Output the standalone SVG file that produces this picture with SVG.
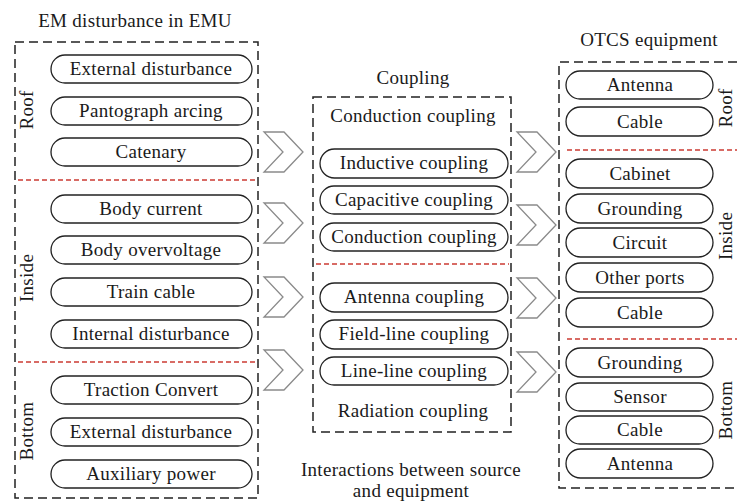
<svg xmlns="http://www.w3.org/2000/svg" xmlns:xlink="http://www.w3.org/1999/xlink" width="737" height="504" viewBox="0 0 737 504">
  <style>
    text { font-family: "Liberation Serif", "Times New Roman", serif; font-size: 19px; letter-spacing: 0.3px; fill: #1a1a1a; text-anchor: middle; }
    .frame { fill: none; stroke: #222; stroke-width: 1.5; stroke-dasharray: 9 5; }
    .split { fill: none; stroke: #cc3b33; stroke-width: 1.5; stroke-dasharray: 5 3; }
    .pill { fill: #fff; stroke: #222; stroke-width: 1.3; }
    .chev { fill: #fff; stroke: #8a8a8a; stroke-width: 1.3; stroke-linejoin: miter; }
  </style>
  <defs>
    <polygon id="chevron" class="chev" points="0,-20 20,-20 39,0 20,20 0,20 19,0"/>
  </defs>
  <rect width="737" height="504" fill="#fff"/>

  <!-- Source column: EM disturbance in EMU -->
  <g id="source">
    <text x="135" y="27">EM disturbance in EMU</text>
    <rect class="frame" x="15" y="42" width="243" height="456"/>
    <line class="split" x1="18" y1="180" x2="255" y2="180"/>
    <line class="split" x1="18" y1="362" x2="255" y2="362"/>
    <text transform="translate(33,110) rotate(-90)">Roof</text>
    <text transform="translate(33,278) rotate(-90)">Inside</text>
    <text transform="translate(33,431) rotate(-90)">Bottom</text>
  </g>
  <g id="src-external-roof"><rect class="pill" x="51" y="55" width="201" height="28" rx="14"/><text x="151" y="75">External disturbance</text></g>
  <g id="src-pantograph"><rect class="pill" x="51" y="97" width="201" height="28" rx="14"/><text x="151" y="117">Pantograph arcing</text></g>
  <g id="src-catenary"><rect class="pill" x="51" y="138" width="201" height="28" rx="14"/><text x="151" y="158">Catenary</text></g>
  <g id="src-body-current"><rect class="pill" x="51" y="195" width="201" height="28" rx="14"/><text x="151" y="215">Body current</text></g>
  <g id="src-body-overvoltage"><rect class="pill" x="51" y="236" width="201" height="28" rx="14"/><text x="151" y="256">Body overvoltage</text></g>
  <g id="src-train-cable"><rect class="pill" x="51" y="278" width="201" height="28" rx="14"/><text x="151" y="298">Train cable</text></g>
  <g id="src-internal"><rect class="pill" x="51" y="320" width="201" height="28" rx="14"/><text x="151" y="340">Internal disturbance</text></g>
  <g id="src-traction"><rect class="pill" x="51" y="376" width="201" height="28" rx="14"/><text x="151" y="396">Traction Convert</text></g>
  <g id="src-external-bottom"><rect class="pill" x="51" y="418" width="201" height="28" rx="14"/><text x="151" y="438">External disturbance</text></g>
  <g id="src-auxiliary"><rect class="pill" x="51" y="460" width="201" height="28" rx="14"/><text x="151" y="480">Auxiliary power</text></g>

  <!-- Coupling column -->
  <g id="coupling">
    <text x="413" y="84">Coupling</text>
    <rect class="frame" x="313" y="97" width="198" height="335"/>
    <line class="split" x1="316" y1="264" x2="509" y2="264"/>
    <text x="413" y="122">Conduction coupling</text>
    <text x="413" y="417">Radiation coupling</text>
  </g>
  <g id="cp-inductive"><rect class="pill" x="320" y="149" width="188" height="29" rx="14.5"/><text x="414" y="169">Inductive coupling</text></g>
  <g id="cp-capacitive"><rect class="pill" x="320" y="186" width="188" height="28" rx="14"/><text x="414" y="206">Capacitive coupling</text></g>
  <g id="cp-conduction"><rect class="pill" x="320" y="223" width="188" height="28" rx="14"/><text x="414" y="243">Conduction coupling</text></g>
  <g id="cp-antenna"><rect class="pill" x="320" y="283" width="188" height="29" rx="14.5"/><text x="414" y="303">Antenna coupling</text></g>
  <g id="cp-field-line"><rect class="pill" x="320" y="320" width="188" height="29" rx="14.5"/><text x="414" y="340">Field-line coupling</text></g>
  <g id="cp-line-line"><rect class="pill" x="320" y="357" width="188" height="28" rx="14"/><text x="414" y="377">Line-line coupling</text></g>

  <g id="caption">
    <text x="411" y="476">Interactions between source</text>
    <text x="411" y="497">and equipment</text>
  </g>

  <!-- Equipment column: OTCS equipment -->
  <g id="equipment">
    <text x="649" y="46">OTCS equipment</text>
    <path class="frame" d="M737,62 H559 V488 H737"/>
    <line class="split" x1="567" y1="150" x2="737" y2="150"/>
    <line class="split" x1="567" y1="339" x2="737" y2="339"/>
    <text transform="translate(732,108) rotate(-90)">Roof</text>
    <text transform="translate(732,236) rotate(-90)">Inside</text>
    <text transform="translate(732,410) rotate(-90)">Bottom</text>
  </g>
  <g id="eq-antenna-roof"><rect class="pill" x="566" y="71" width="147" height="28" rx="14"/><text x="640" y="91">Antenna</text></g>
  <g id="eq-cable-roof"><rect class="pill" x="566" y="107" width="147" height="29" rx="14.5"/><text x="640" y="128">Cable</text></g>
  <g id="eq-cabinet"><rect class="pill" x="566" y="159" width="147" height="29" rx="14.5"/><text x="640" y="180">Cabinet</text></g>
  <g id="eq-grounding-inside"><rect class="pill" x="566" y="194" width="147" height="29" rx="14.5"/><text x="640" y="215">Grounding</text></g>
  <g id="eq-circuit"><rect class="pill" x="566" y="228" width="147" height="29" rx="14.5"/><text x="640" y="249">Circuit</text></g>
  <g id="eq-other-ports"><rect class="pill" x="566" y="263" width="147" height="29" rx="14.5"/><text x="640" y="284">Other ports</text></g>
  <g id="eq-cable-inside"><rect class="pill" x="566" y="298" width="147" height="29" rx="14.5"/><text x="640" y="319">Cable</text></g>
  <g id="eq-grounding-bottom"><rect class="pill" x="566" y="348" width="147" height="29" rx="14.5"/><text x="640" y="369">Grounding</text></g>
  <g id="eq-sensor"><rect class="pill" x="566" y="383" width="147" height="28" rx="14"/><text x="640" y="403">Sensor</text></g>
  <g id="eq-cable-bottom"><rect class="pill" x="566" y="416" width="147" height="28" rx="14"/><text x="640" y="436">Cable</text></g>
  <g id="eq-antenna-bottom"><rect class="pill" x="566" y="449" width="147" height="29" rx="14.5"/><text x="640" y="470">Antenna</text></g>

  <!-- Chevron connectors between columns -->
  <g id="connectors">
    <use xlink:href="#chevron" x="264" y="152"/>
    <use xlink:href="#chevron" x="264" y="223"/>
    <use xlink:href="#chevron" x="264" y="297"/>
    <use xlink:href="#chevron" x="264" y="370"/>
    <use xlink:href="#chevron" x="517" y="152"/>
    <use xlink:href="#chevron" x="517" y="225"/>
    <use xlink:href="#chevron" x="517" y="298"/>
    <use xlink:href="#chevron" x="517" y="372"/>
  </g>
</svg>
